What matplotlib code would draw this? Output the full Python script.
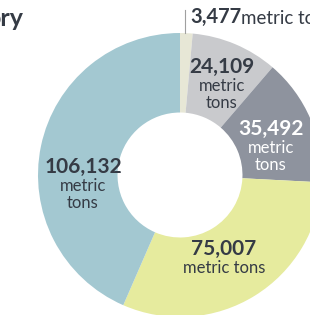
import numpy as np
import matplotlib
matplotlib.use('Agg')
import matplotlib.pyplot as plt

plt.rcParams['font.family'] = ['Lato', 'DejaVu Sans']

# data, clockwise from 12 o'clock
values = [3477, 24109, 35492, 75007, 106132]
value_labels = ["3,477", "24,109", "35,492", "75,007", "106,132"]
unit_labels = ["metric tons", "metric\ntons", "metric\ntons", "metric tons", "metric\ntons"]
colors = ['#e7e7d6', '#c9cacd', '#8e939e', '#e6eb9e', '#a3c8d1']
text_colors = ['#353b45', '#353b45', '#ffffff', '#353b45', '#353b45']
title_text = "ory"

W, H = 310, 315
cx, cy, R = 180, 175, 142      # pixel centre and outer radius
fig = plt.figure(figsize=(W / 100, H / 100), dpi=100)
ax = fig.add_axes([(cx - R) / W, (H - cy - R) / H, 2 * R / W, 2 * R / H])

wedges, _ = ax.pie(values, colors=colors, startangle=90, counterclock=False,
                   radius=1, wedgeprops=dict(width=0.56, linewidth=0))
ax.set_xlim(-1, 1)
ax.set_ylim(-1, 1)
ax.axis('off')

px = 1 / R  # one pixel in data units
# label placement: angle nudge (deg) and radius per slice
place = {1: (-1.5, 0.71), 2: (-5, 0.675), 3: (-3.5, 0.655), 4: (16.4, 0.685)}
for i, w in enumerate(wedges):
    if i == 0:
        continue
    mid = (w.theta1 + w.theta2) / 2
    da, r = place[i]
    ang = np.deg2rad(mid + da)
    x, y = r * np.cos(ang), r * np.sin(ang)
    two = "\n" in unit_labels[i]
    ny = y + (18 if two else 10) * px
    uy = y - 11.5 * px
    ax.text(x, ny, value_labels[i], ha='center', va='center_baseline',
            fontsize=15, fontweight='bold', color=text_colors[i])
    ax.text(x, uy, unit_labels[i], ha='center', va='center',
            fontsize=12, color=text_colors[i], linespacing=1.05)

# small slice: leader line and outside label
ax.plot([0.035, 0.035], [1.0, 1.16], color='#a0a0a0', lw=0.8, clip_on=False)
t = ax.text(0.072, 1.11, value_labels[0], ha='left', va='center',
            fontsize=14.5, fontweight='bold', color=text_colors[0])
fig.canvas.draw()
bb = t.get_window_extent().transformed(ax.transData.inverted())
ax.text(bb.x1 - 0.002, 1.102, unit_labels[0], ha='left', va='center',
        fontsize=13.5, color=text_colors[0])

fig.text(23 / W, 1 - 19 / H, title_text, ha='right', va='center',
         fontsize=18, fontweight='bold', color='#353b45')

fig.savefig('out.png', dpi=100)
